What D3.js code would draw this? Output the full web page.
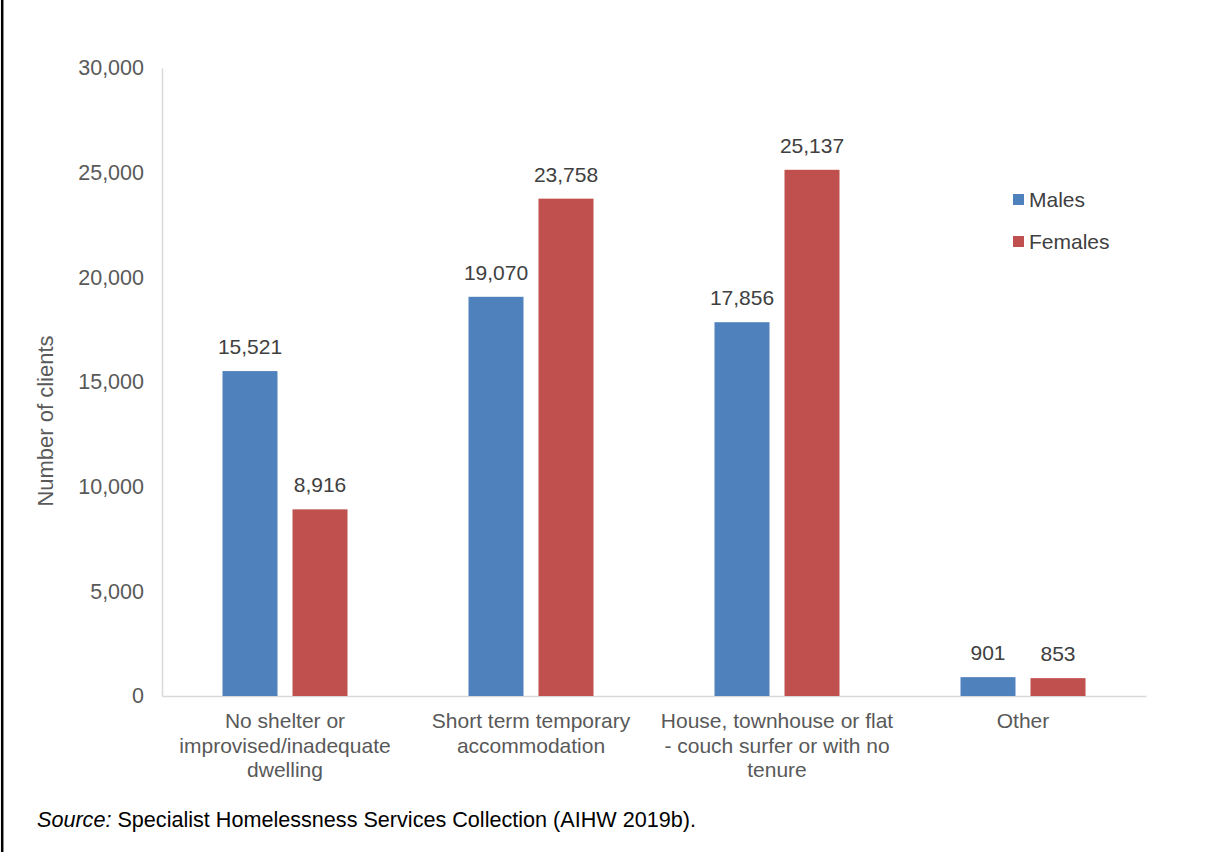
<!DOCTYPE html>
<html>
<head>
<meta charset="utf-8">
<script src="https://cdn.jsdelivr.net/npm/d3@7"></script>
<style>
  body { margin: 0; background: #fff; }
  svg { display: block; font-family: "Liberation Sans", Arial, sans-serif; }
  .axis path { stroke: #d9d9d9; stroke-width: 1.5; }
  .axis text { fill: #595959; font-size: 21px; font-family: "Liberation Sans", Arial, sans-serif; }
  .axis.y text { font-size: 21.5px; }
</style>
</head>
<body>
<svg width="1205" height="852"></svg>
<script>
var categories = [
  ["No shelter or", "improvised/inadequate", "dwelling"],
  ["Short term temporary", "accommodation"],
  ["House, townhouse or flat", "- couch surfer or with no", "tenure"],
  ["Other"]
];
var series = ["Males", "Females"];
var males = [15521, 19070, 17856, 901];
var females = [8916, 23758, 25137, 853];
var yTicks = [0, 5000, 10000, 15000, 20000, 25000, 30000];

var colors = {Males: "#4f81bd", Females: "#c0504d"};

var width = 1205, height = 852;
var margin = {left: 162, right: 59, top: 68, bottom: 156};

var svg = d3.select("svg");

// border on the left edge
svg.append("line")
  .attr("x1", 2.2).attr("x2", 2.2)
  .attr("y1", 0).attr("y2", height)
  .attr("stroke", "#000")
  .attr("stroke-width", 2.5);

var idx = d3.range(categories.length);

var xScale = d3.scaleBand()
  .domain(idx)
  .range([margin.left, width - margin.right]);

// bars sit in the middle of each band
var xInner = d3.scaleBand()
  .domain(series)
  .range([xScale.bandwidth() / 2 - 62.5, xScale.bandwidth() / 2 + 62.5])
  .paddingInner(15 / 70);

var yScale = d3.scaleLinear()
  .domain([0, 30000])
  .range([height - margin.bottom, margin.top]);

var yAxis = d3.axisLeft(yScale)
  .tickValues(yTicks)
  .tickFormat(d3.format(","))
  .tickSize(0)
  .tickSizeOuter(0)
  .tickPadding(18);

svg.append("g")
  .attr("class", "axis y")
  .attr("transform", "translate(" + margin.left + ",0)")
  .call(yAxis);

var xAxis = d3.axisBottom(xScale)
  .tickSize(0)
  .tickSizeOuter(0)
  .tickFormat("");

var gx = svg.append("g")
  .attr("class", "axis")
  .attr("transform", "translate(0," + (height - margin.bottom) + ")")
  .call(xAxis);

// multi-line category labels
gx.selectAll(".tick").each(function(d) {
  var t = d3.select(this).append("text")
    .attr("text-anchor", "middle")
    .attr("y", 32);
  categories[d].forEach(function(line, j) {
    t.append("tspan")
      .attr("x", 0)
      .attr("dy", j === 0 ? 0 : 24.5)
      .text(line);
  });
});

var rows = idx.map(function(i) {
  return [{s: "Males", v: males[i], i: i}, {s: "Females", v: females[i], i: i}];
});

var groups = svg.selectAll(".grp")
  .data(rows)
  .enter()
  .append("g")
  .attr("class", "grp")
  .attr("transform", function(d, i) { return "translate(" + xScale(i) + ",0)"; });

groups.selectAll("rect")
  .data(function(d) { return d; })
  .enter()
  .append("rect")
  .attr("x", function(d) { return xInner(d.s); })
  .attr("y", function(d) { return yScale(d.v); })
  .attr("width", xInner.bandwidth())
  .attr("height", function(d) { return yScale(0) - yScale(d.v); })
  .attr("fill", function(d) { return colors[d.s]; });

groups.selectAll(".lbl")
  .data(function(d) { return d; })
  .enter()
  .append("text")
  .attr("class", "lbl")
  .attr("x", function(d) { return xInner(d.s) + xInner.bandwidth() / 2; })
  .attr("y", function(d) { return yScale(d.v) - 17; })
  .attr("text-anchor", "middle")
  .attr("fill", "#404040")
  .style("font-size", "21px")
  .text(function(d) { return d3.format(",")(d.v); });

// y axis title
svg.append("text")
  .attr("transform", "translate(53,421) rotate(-90)")
  .attr("text-anchor", "middle")
  .attr("fill", "#595959")
  .style("font-size", "22px")
  .text("Number of clients");

// legend
var legend = svg.selectAll(".leg")
  .data(series)
  .enter()
  .append("g")
  .attr("class", "leg")
  .attr("transform", function(d, i) { return "translate(1013," + (194 + i * 42) + ")"; });

legend.append("rect")
  .attr("width", 11)
  .attr("height", 11)
  .attr("fill", function(d) { return colors[d]; });

legend.append("text")
  .attr("x", 16)
  .attr("y", 13)
  .attr("fill", "#404040")
  .style("font-size", "21px")
  .text(function(d) { return d; });

// source note
var src = svg.append("text")
  .attr("x", 37)
  .attr("y", 827)
  .attr("fill", "#000")
  .style("font-size", "21.6px");
src.append("tspan").style("font-style", "italic").text("Source:");
src.append("tspan").text(" Specialist Homelessness Services Collection (AIHW 2019b).");
</script>
</body>
</html>
